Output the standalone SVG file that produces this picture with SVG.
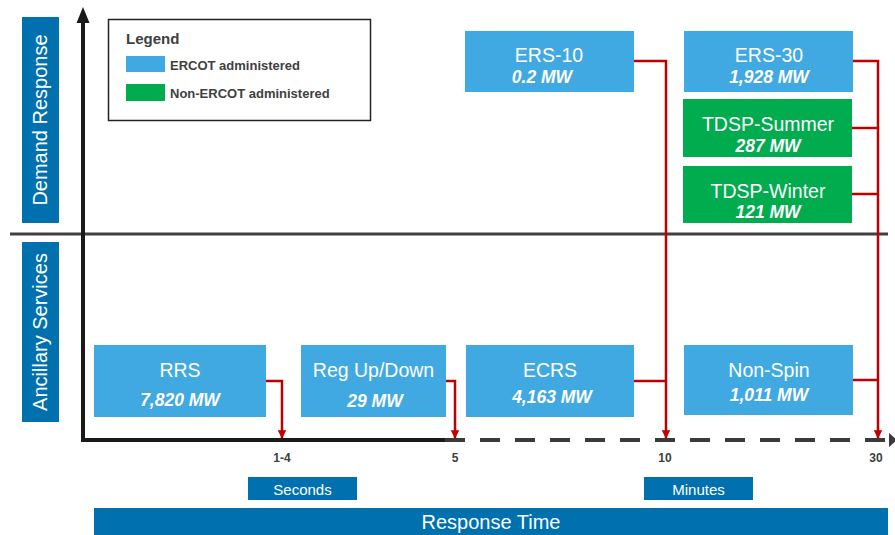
<svg xmlns="http://www.w3.org/2000/svg" width="895" height="535" viewBox="0 0 895 535">
  <style>
    text { font-family: "Liberation Sans", Arial, sans-serif; }
    .blue { fill: #41A9E1; }
    .green { fill: #00AC4E; }
    .band { fill: #0071AE; }
    .title { fill: #ffffff; font-size: 19.5px; text-anchor: middle; }
    .mw { fill: #ffffff; font-size: 17.5px; font-weight: bold; font-style: italic; text-anchor: middle; }
    .side { fill: #ffffff; font-size: 20px; text-anchor: middle; }
    .tick { fill: #404040; font-size: 12px; font-weight: bold; text-anchor: middle; }
    .unit { fill: #ffffff; font-size: 15px; text-anchor: middle; }
    .legend { fill: #404040; font-size: 13px; font-weight: bold; }
    .link { fill: none; stroke: #C00000; stroke-width: 2.5; }
  </style>
  <defs>
    <marker id="redArrow" viewBox="0 0 10 10" refX="9" refY="5" markerWidth="3.4" markerHeight="3.6" orient="auto" markerUnits="strokeWidth">
      <path d="M0,0 L10,5 L0,10 Z" fill="#C00000"/>
    </marker>
  </defs>

  <rect width="895" height="535" fill="#ffffff"/>

  <!-- side bands -->
  <g id="demand-response-band">
    <rect class="band" x="22" y="17" width="37" height="206"/>
    <text class="side" transform="translate(47,120) rotate(-90)">Demand Response</text>
  </g>
  <g id="ancillary-services-band">
    <rect class="band" x="22" y="242" width="37" height="180"/>
    <text class="side" transform="translate(47,332) rotate(-90)">Ancillary Services</text>
  </g>

  <!-- axes and divider -->
  <g id="axes">
    <line x1="10" y1="234" x2="888" y2="234" stroke="#404040" stroke-width="3"/>
    <line x1="83" y1="20" x2="83" y2="442" stroke="#1a1a1a" stroke-width="4"/>
    <path d="M76.5,23 L83,7 L89.5,23 Z" fill="#1a1a1a"/>
    <line x1="81" y1="440" x2="446" y2="440" stroke="#1a1a1a" stroke-width="4"/>
    <line x1="445" y1="440" x2="886" y2="440" stroke="#3a3a3a" stroke-width="4" stroke-dasharray="20 15"/>
    <path d="M889,433 L897,440 L889,447 Z" fill="#3a3a3a"/>
  </g>

  <!-- legend -->
  <g id="legend">
    <rect x="108.5" y="19.5" width="262" height="101" fill="#ffffff" stroke="#222222" stroke-width="1.5"/>
    <text x="126" y="44" fill="#404040" font-size="15" font-weight="bold">Legend</text>
    <rect class="blue" x="126" y="56" width="39" height="16"/>
    <text class="legend" x="170" y="70">ERCOT administered</text>
    <rect class="green" x="126" y="84" width="39" height="17"/>
    <text class="legend" x="170" y="98">Non-ERCOT administered</text>
  </g>

  <!-- demand response nodes -->
  <g id="ers-10">
    <rect class="blue" x="465" y="31" width="169" height="61"/>
    <text class="title" x="549" y="62">ERS-10</text>
    <text class="mw" x="542" y="83">0.2 MW</text>
  </g>
  <g id="ers-30">
    <rect class="blue" x="684" y="31" width="169" height="61"/>
    <text class="title" x="769" y="62">ERS-30</text>
    <text class="mw" x="769" y="83">1,928 MW</text>
  </g>
  <g id="tdsp-summer">
    <rect class="green" x="683" y="99" width="169" height="58"/>
    <text class="title" x="768" y="131">TDSP-Summer</text>
    <text class="mw" x="768" y="152">287 MW</text>
  </g>
  <g id="tdsp-winter">
    <rect class="green" x="683" y="166" width="169" height="57"/>
    <text class="title" x="768" y="198">TDSP-Winter</text>
    <text class="mw" x="768" y="218">121 MW</text>
  </g>

  <!-- ancillary service nodes -->
  <g id="rrs">
    <rect class="blue" x="94" y="345" width="172" height="72"/>
    <text class="title" x="180" y="377">RRS</text>
    <text class="mw" x="180" y="406">7,820 MW</text>
  </g>
  <g id="reg-up-down">
    <rect class="blue" x="301" y="345" width="145" height="72"/>
    <text class="title" x="373.5" y="377">Reg Up/Down</text>
    <text class="mw" x="375" y="407">29 MW</text>
  </g>
  <g id="ecrs">
    <rect class="blue" x="466" y="345" width="168" height="72"/>
    <text class="title" x="550" y="377">ECRS</text>
    <text class="mw" x="552" y="403">4,163 MW</text>
  </g>
  <g id="non-spin">
    <rect class="blue" x="684" y="345" width="169" height="70"/>
    <text class="title" x="769" y="377">Non-Spin</text>
    <text class="mw" x="769" y="401">1,011 MW</text>
  </g>

  <!-- response-time connectors -->
  <g id="connectors">
    <path class="link" d="M266,381 H282 V438" marker-end="url(#redArrow)"/>
    <path class="link" d="M446,381 H455 V438" marker-end="url(#redArrow)"/>
    <path class="link" d="M634,61 H666 V438" marker-end="url(#redArrow)"/>
    <path class="link" d="M634,381 H666"/>
    <path class="link" d="M853,61 H878 V438" marker-end="url(#redArrow)"/>
    <path class="link" d="M852,128 H878"/>
    <path class="link" d="M852,194 H878"/>
    <path class="link" d="M853,380 H878"/>
  </g>

  <!-- time scale -->
  <g id="tick-labels">
    <text class="tick" x="282" y="462">1-4</text>
    <text class="tick" x="455" y="462">5</text>
    <text class="tick" x="665" y="462">10</text>
    <text class="tick" x="876" y="462">30</text>
  </g>
  <g id="seconds">
    <rect class="band" x="248" y="477" width="109" height="23"/>
    <text class="unit" x="302.5" y="495">Seconds</text>
  </g>
  <g id="minutes">
    <rect class="band" x="644" y="477" width="109" height="23"/>
    <text class="unit" x="698.5" y="495">Minutes</text>
  </g>
  <g id="response-time">
    <rect class="band" x="94" y="508" width="794" height="27"/>
    <text x="491" y="529" fill="#ffffff" font-size="20" text-anchor="middle">Response Time</text>
  </g>
</svg>
